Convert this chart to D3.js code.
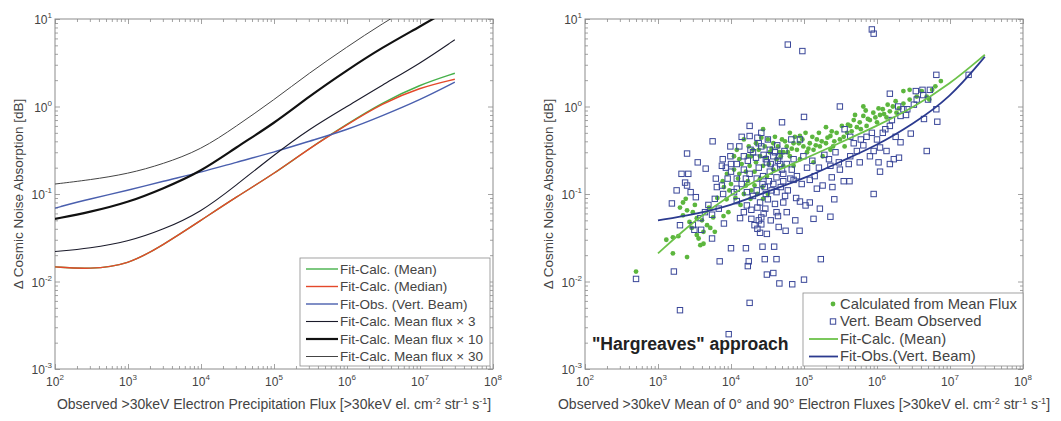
<!DOCTYPE html>
<html>
<head>
<meta charset="utf-8">
<script src="https://d3js.org/d3.v7.min.js"></script>
<style>
  body { margin: 0; background: #fff; }
  svg { font-family: "Liberation Sans", Arial, sans-serif; }
  svg text { fill: #444; }
</style>
</head>
<body>
<svg id="chart" width="1061" height="421"></svg>
<script>
// ---- left panel: fitted curves ----
const fluxGrid = [1e2, 3e2, 1e3, 3e3, 1e4, 3e4, 1e5, 3e5, 1e6, 3e6, 1e7, 3e7];
const fitCalcMean   = [0.0147, 0.0138, 0.0155, 0.026, 0.05, 0.092, 0.17, 0.33, 0.63, 1.10, 1.78, 2.4];
const fitCalcMedian = [0.0147, 0.0138, 0.0155, 0.026, 0.05, 0.092, 0.17, 0.33, 0.62, 1.08, 1.65, 2.05];
const fitObsVert    = [0.069, 0.088, 0.11, 0.14, 0.177, 0.23, 0.30, 0.40, 0.54, 0.78, 1.19, 1.9];
const meanFluxX3    = [0.022, 0.024, 0.0285, 0.039, 0.062, 0.125, 0.28, 0.55, 1.0, 1.75, 3.1, 5.8];
const meanFluxX10   = [0.052, 0.062, 0.08, 0.115, 0.18, 0.34, 0.64, 1.3, 2.6, 4.7, 8.2, 14];
const meanFluxX30   = [0.13, 0.145, 0.17, 0.22, 0.32, 0.59, 1.19, 2.4, 4.8, 8.8, 16, 28];

const leftNames = ["Fit-Calc. (Mean)", "Fit-Calc. (Median)", "Fit-Obs. (Vert. Beam)",
  "Fit-Calc. Mean flux \u00d7 3", "Fit-Calc. Mean flux \u00d7 10", "Fit-Calc. Mean flux \u00d7 30"];

// ---- right panel: scatter + fits ----
const fitGridR = [1e3, 3e3, 1e4, 3e4, 1e5, 3e5, 1e6, 3e6, 1e7, 3e7];
const fitCalcMeanR = [0.021, 0.048, 0.10, 0.165, 0.25, 0.38, 0.60, 0.95, 1.8, 3.9];
const fitObsVertR  = [0.05, 0.058, 0.074, 0.105, 0.15, 0.23, 0.36, 0.62, 1.25, 3.7];

const calcFromMean = [
[5.0e2,0.013],[1.6e3,0.021],[2.5e3,0.019],[1.6e3,0.032],[1.9e3,0.033],[2.2e3,0.08],[2.5e3,0.065],[3.0e3,0.062],[3.4e3,0.053],
[2.9e3,0.041],[3.4e3,0.034],[3.8e3,0.026],[4.2e3,0.037],[4.7e3,0.044],[5.2e3,0.041],[5.7e3,0.054],[6.0e3,0.037],[4.2e3,0.027],
[3.6e3,0.031],[2.0e3,0.07],[2.4e3,0.088],[7.9e3,0.056],[9.2e3,0.062],[8.7e3,0.087],[7.7e3,0.14],[8.8e3,0.17],[1.0e4,0.13],
[1.1e4,0.19],[1.25e4,0.15],[1.3e4,0.25],[1.5e4,0.1],[1.6e4,0.125],[1.8e4,0.21],[1.9e4,0.27],[2.0e4,0.32],[2.2e4,0.38],
[2.5e4,0.27],[2.75e4,0.21],[2.9e4,0.35],[3.2e4,0.42],[3.4e4,0.3],[3.8e4,0.38],[4.2e4,0.25],[4.4e4,0.35],[5.0e4,0.42],
[5.2e4,0.3],[5.8e4,0.35],[6.4e4,0.27],[7.2e4,0.38],[8.0e4,0.32],[8.8e4,0.46],[9.8e4,0.35],[1.1e5,0.3],[1.2e5,0.38],
[1.35e5,0.32],[1.5e5,0.42],[1.65e5,0.35],[1.8e5,0.27],[2.0e5,0.38],[2.3e5,0.46],[2.5e5,0.35],[2.8e5,0.5],[3.1e5,0.42],
[3.3e5,0.6],[3.9e5,0.5],[4.3e5,0.6],[4.8e5,0.7],[5.3e5,0.58],[5.8e5,0.66],[6.5e5,0.78],[7.2e5,0.6],[8.0e5,0.7],[8.9e5,0.85],
[1.0e6,0.66],[1.1e6,0.8],[1.2e6,0.93],[1.35e6,0.75],[1.5e6,0.88],[1.65e6,1.0],[1.85e6,0.85],[2.3e6,1.08],[2.8e6,1.2],
[3.5e6,1.3],[4.1e6,1.5],[4.8e6,1.3],[5.7e6,1.55],[6.3e6,1.7],[5.2e6,1.2],
[1.2e4,0.32],[1.5e4,0.42],[1.1e4,0.27],[1.6e4,0.18],[2.1e4,0.18],[2.5e4,0.15],[3.1e4,0.16],[3.8e4,0.19],[2.1e4,0.125],
[1.85e4,0.088],[2.75e4,0.088],[5.2e4,0.21],[7.2e4,0.21],[8.8e4,0.25],[1.35e5,0.23],[6.4e4,0.5],[2.75e4,0.55],[1.75e4,0.35],
[2.0e5,0.58],[2.3e5,0.32],[3.6e5,0.35],[6.5e5,1.0],[2.3e6,1.5],[2.8e6,1.55],[7.5e6,1.95],
[1.3e4,0.17],[1.4e4,0.22],[1.7e4,0.27],[2.2e4,0.23],[2.4e4,0.32],[2.6e4,0.44],[3.0e4,0.26],[3.3e4,0.22],[3.6e4,0.33],
[4.0e4,0.45],[4.6e4,0.3],[4.8e4,0.27],[5.5e4,0.4],[6.0e4,0.3],[6.8e4,0.33],[7.5e4,0.45],[8.5e4,0.38],[9.5e4,0.42],
[1.05e5,0.5],[1.15e5,0.33],[1.3e5,0.45],[1.45e5,0.36],[1.6e5,0.5],[1.75e5,0.4],[2.1e5,0.44],[2.4e5,0.52],[2.6e5,0.4],
[3.5e5,0.45],[4.0e5,0.62],[4.5e5,0.52],[5.0e5,0.8],[6.0e5,0.55],[7.0e5,0.9],[7.5e5,0.72],[9.5e5,0.75],[1.05e6,0.95],
[1.25e6,0.82],[1.4e6,1.05],[1.8e6,1.15],[2.0e6,0.95],[9.5e3,0.11],[1.15e4,0.09],[1.35e4,0.075],[1.7e4,0.14],[1.9e4,0.11],
[2.3e4,0.1],[2.7e4,0.12],[3.2e4,0.1],[8.0e3,0.12],[6.5e3,0.09],[5.0e3,0.07],[4.0e3,0.05],[2.7e3,0.048],[3.2e3,0.075],
[2.2e3,0.057],[1.3e3,0.03]
];

const vertBeamObs = [
[6.0e4,5.1],[9.5e4,4.3],[8.5e5,7.6],[9.0e5,6.8],[6.5e6,2.3],[1.8e7,2.3],[1.5e6,1.4],[3.4e6,1.5],[4.2e6,1.55],
[3.1e5,1.0],[1.0e5,0.76],[5.0e4,0.66],[6.5e6,0.93],[6.7e6,0.67],[4.4e6,0.72],[2.9e6,0.49],[1.8e6,0.45],[1.7e6,0.25],
[1.35e6,0.31],[4.8e6,0.31],[1.05e6,0.23],[8.0e5,0.27],[9.0e5,0.10],[3.5e5,0.14],[2.4e5,0.155],[2.45e5,0.12],[1.8e5,0.125],
[1.5e5,0.115],[2.6e5,0.087],[1.65e5,0.068],[2.3e5,0.055],[1.35e5,0.052],[1.2e5,0.08],[8.8e4,0.082],[1.05e5,0.074],[7.8e4,0.09],
[1.7e5,0.018],[5.5e4,0.095],[5.8e4,0.062],[7.6e4,0.05],[8.7e4,0.038],[5.6e4,0.038],[4.5e4,0.042],[1.8e4,0.6],[5.6e3,0.40],
[2.5e3,0.29],[3.5e3,0.23],[4.5e3,0.195],[2.1e3,0.17],[2.6e3,0.17],[2.35e3,0.135],[2.5e3,0.125],[2.8e3,0.105],[3.3e3,0.092],
[1.55e3,0.078],[4.9e3,0.075],[5.5e3,0.058],[3.8e3,0.053],[3.0e3,0.044],[3.15e3,0.039],[3.9e3,0.039],[5.5e3,0.031],
[1.65e3,0.013],[2.0e3,0.0047],[5.0e2,0.0107],[9.3e3,0.0025],[7.0e3,0.017],[1.0e4,0.024],[1.6e4,0.024],[1.7e4,0.015],
[1.75e4,0.017],[2.7e4,0.025],[2.9e4,0.018],[3.9e4,0.025],[4.2e4,0.018],[3.1e4,0.012],[3.8e4,0.0125],[4.6e4,0.0095],
[6.9e4,0.0093],[1.0e5,0.0105],[1.8e4,0.0057],[2.3e4,0.04],[2.5e4,0.036],[3.1e4,0.035],[2.1e4,0.044],[2.4e4,0.05],
[1.33e4,0.053],[2.6e4,0.054],[4.4e4,0.056],[4.2e4,0.062],
[1.8e4,0.46],[2.3e4,0.44],[9.8e3,0.35],[7.7e3,0.25],[9.8e3,0.27],[7.5e3,0.21],[1.0e4,0.22],[1.5e4,0.27],[1.85e4,0.32],
[2.6e4,0.35],[3.4e4,0.32],[3.8e4,0.27],[4.6e4,0.27],[5.4e4,0.31],[6.7e4,0.42],[8.8e4,0.42],[4.7e4,0.22],[3.4e4,0.18],
[2.75e4,0.16],[2.25e4,0.15],[1.8e4,0.17],[1.5e4,0.19],[1.2e4,0.15],[9.0e3,0.15],[7.5e3,0.125],[7.8e3,0.10],[1.2e4,0.115],
[1.65e4,0.105],[2.25e4,0.11],[2.9e4,0.12],[3.8e4,0.13],[5.2e4,0.14],[7.2e4,0.145],[9.3e4,0.13],[1.2e5,0.145],[1.4e5,0.16],
[1.2e4,0.083],[1.65e4,0.074],[2.5e4,0.08],[3.2e4,0.087],[4.2e4,0.105],[4.0e4,0.077],[2.95e4,0.068],[1.9e4,0.066],[1.5e4,0.062],
[5.2e4,0.08],[3.1e4,0.23],[4.0e4,0.2],[5.8e4,0.22],[7.2e4,0.25],[9.8e4,0.27],[1.3e5,0.24],[1.6e5,0.2],[5.2e4,0.17],[4.2e4,0.155],
[1.1e4,0.105],
[4.3e5,0.27],[5.3e5,0.31],[6.5e5,0.36],[7.2e5,0.45],[5.8e5,0.23],[4.1e5,0.22],[3.1e5,0.19],[1.0e6,0.42],[1.2e6,0.5],[1.1e6,0.34],
[2.3e5,0.21],[2.1e6,0.78],[2.3e6,0.93],[3.5e6,1.2],[4.3e6,1.35],[1.95e6,1.0],[3.6e5,0.55],[4.3e5,0.45],[9.0e5,0.31],[1.5e6,0.6],
[2.6e6,0.93],[3.2e6,1.05],[5.3e6,1.55],[5.0e6,1.2],
[2.0e3,0.044],[1.8e3,0.11],[6.4e3,0.12],[6.0e3,0.088],[4.4e3,0.062],
[2.1e6,0.39],[2.0e6,0.26],[1.5e6,0.22],[1.1e6,0.18],[4.2e5,0.14],
[2.0e4,0.3],[2.2e4,0.26],[2.8e4,0.28],[3.0e4,0.25],[3.5e4,0.22],[4.0e4,0.3],[4.4e4,0.24],[2.4e4,0.2],[2.7e4,0.13],
[3.3e4,0.14],[3.6e4,0.11],[4.8e4,0.12],[6.0e4,0.11],[6.5e4,0.15],[1.4e4,0.13],[1.0e4,0.18],[8.5e3,0.2],[1.3e4,0.35],
[1.6e4,0.15],[2.0e4,0.095],[2.3e4,0.07],[2.8e4,0.06],[3.5e4,0.05],[1.9e4,0.052],[6.2e3,0.15],[6.8e3,0.068],[8.0e3,0.046],
[3.2e4,0.42],[4.3e4,0.36],[5.0e4,0.19],[6.8e4,0.19],[8.0e4,0.16],[1.1e5,0.2],[1.9e5,0.28],[2.7e5,0.3],[2.2e5,0.25],
[3.0e5,0.23],[4.8e5,0.38],[6.0e5,0.42],[8.5e5,0.5],[1.3e6,0.55],[1.6e6,0.7],[2.5e6,0.8],[2.6e4,0.045],[3.0e4,0.1],
[1.2e4,0.22],[1.7e4,0.24],[2.4e4,0.38],[2.6e4,0.5],[1.4e4,0.45]
];

const rightNames = ["Calculated from Mean Flux", "Vert. Beam Observed", "Fit-Calc. (Mean)", "Fit-Obs.(Vert. Beam)"];

// ---- axis ticks ----
const xMajor = [1e2, 1e3, 1e4, 1e5, 1e6, 1e7, 1e8];
const yMajor = [1e-3, 1e-2, 1e-1, 1e0, 1e1];
const yTitle = "\u0394 Cosmic Noise Absorption [dB]";
const xTitleLeft = [["Observed >30keV Electron Precipitation Flux [>30keV el. cm"], ["-2", 1], [" str"], ["-1", 1], [" s"], ["-1", 1], ["]"]];
const xTitleRight = [["Observed >30keV Mean of 0\u00b0 and 90\u00b0 Electron Fluxes [>30keV el. cm"], ["-2", 1], [" str"], ["-1", 1], [" s"], ["-1", 1], ["]"]];

const svg = d3.select("#chart");
const W = 438, H = 350, TOP = 19;

function minorTicks(lo, hi) {
  const out = [];
  for (let e = lo; e < hi; e++) for (let m = 2; m <= 9; m++) out.push(m * Math.pow(10, e));
  return out;
}

function powLabel(sel, v) {
  const e = Math.round(Math.log10(v));
  sel.append("tspan").text("10");
  sel.append("tspan").attr("dy", -6).attr("font-size", 8).text(e);
}

function panel(id, left, xTitle) {
  const x = d3.scaleLog().domain([1e2, 1e8]).range([left, left + W]);
  const y = d3.scaleLog().domain([1e-3, 1e1]).range([TOP + H, TOP]);
  const g = svg.append("g").attr("id", id);

  g.append("clipPath").attr("id", id + "clip")
    .append("rect").attr("x", left).attr("y", TOP).attr("width", W).attr("height", H);

  const axColor = "#8c8c8c";
  const mk = (axis, tr) => {
    const a = g.append("g").attr("transform", tr).call(axis);
    a.select(".domain").remove();
    a.selectAll("line").attr("stroke", axColor).attr("stroke-width", 0.8);
    a.selectAll("text").remove();
  };
  [[xMajor, 5], [minorTicks(2, 8), 3]].forEach(([vals, s]) => {
    mk(d3.axisBottom(x).tickValues(vals).tickSize(-s), `translate(0,${TOP + H})`);
    mk(d3.axisTop(x).tickValues(vals).tickSize(-s), `translate(0,${TOP})`);
  });
  [[yMajor, 5], [minorTicks(-3, 1), 3]].forEach(([vals, s]) => {
    mk(d3.axisLeft(y).tickValues(vals).tickSize(-s), `translate(${left},0)`);
    mk(d3.axisRight(y).tickValues(vals).tickSize(-s), `translate(${left + W},0)`);
  });
  g.append("rect").attr("x", left).attr("y", TOP).attr("width", W).attr("height", H)
    .attr("fill", "none").attr("stroke", axColor).attr("stroke-width", 1);

  g.selectAll(".xl").data(xMajor).enter().append("text")
    .attr("x", d => x(d)).attr("y", TOP + H + 17)
    .attr("text-anchor", "middle").attr("font-size", 12)
    .each(function (d) { powLabel(d3.select(this), d); });
  g.selectAll(".yl").data(yMajor).enter().append("text")
    .attr("x", left - 3).attr("y", d => y(d) + 5)
    .attr("text-anchor", "end").attr("font-size", 12)
    .each(function (d) { powLabel(d3.select(this), d); });

  const xt = g.append("text").attr("x", left + W / 2).attr("y", TOP + H + 35)
    .attr("text-anchor", "middle").attr("font-size", 14);
  xTitle.forEach(([t, sup]) => {
    if (sup) xt.append("tspan").attr("dy", -5).attr("font-size", 9).text(t);
    else xt.append("tspan").attr("dy", xt.selectAll("tspan").size() ? 5 : 0).text(t);
  });
  g.append("text").attr("transform", `translate(${left - 32},${TOP + H / 2}) rotate(-90)`)
    .attr("text-anchor", "middle").attr("font-size", 13.5).text(yTitle);

  const plot = g.append("g").attr("clip-path", `url(#${id}clip)`);
  return { x, y, g, plot };
}

// ---------- left panel ----------
const L = panel("left", 55, xTitleLeft);
const leftSeries = [
  { vals: fitCalcMean, color: "#46b04a", w: 1.4 },
  { vals: fitCalcMedian, color: "#e4482a", w: 1.4 },
  { vals: fitObsVert, color: "#4a5fae", w: 1.4 },
  { vals: meanFluxX3, color: "#1a1a2a", w: 1.1 },
  { vals: meanFluxX10, color: "#111", w: 2.2 },
  { vals: meanFluxX30, color: "#444", w: 1.0 }
];
const lineL = d3.line().x(d => L.x(d[0])).y(d => L.y(d[1])).curve(d3.curveBasis);
leftSeries.forEach(s => {
  L.plot.append("path").datum(fluxGrid.map((f, i) => [f, s.vals[i]]))
    .attr("d", lineL).attr("fill", "none").attr("stroke", s.color).attr("stroke-width", s.w);
});

const lg = L.g.append("g");
lg.append("rect").attr("x", 300).attr("y", 258).attr("width", 190).attr("height", 108)
  .attr("fill", "#fff").attr("stroke", "#8c8c8c").attr("stroke-width", 0.8);
leftNames.forEach((n, i) => {
  const yy = 269 + i * 17.5;
  lg.append("line").attr("x1", 306).attr("x2", 338).attr("y1", yy).attr("y2", yy)
    .attr("stroke", leftSeries[i].color).attr("stroke-width", leftSeries[i].w);
  lg.append("text").attr("x", 340).attr("y", yy + 4.5).attr("font-size", 13.5).text(n);
});

// ---------- right panel ----------
const R = panel("right", 585, xTitleRight);
R.plot.selectAll(".calc").data(calcFromMean).enter().append("circle")
  .attr("cx", d => R.x(d[0])).attr("cy", d => R.y(d[1])).attr("r", 2.4)
  .attr("fill", "#5cb63e");
R.plot.selectAll(".obs").data(vertBeamObs).enter().append("rect")
  .attr("x", d => R.x(d[0]) - 2.7).attr("y", d => R.y(d[1]) - 2.7)
  .attr("width", 5.4).attr("height", 5.4)
  .attr("fill", "none").attr("stroke", "#3a4799").attr("stroke-width", 1);
const lineR = d3.line().x(d => R.x(d[0])).y(d => R.y(d[1])).curve(d3.curveBasis);
R.plot.append("path").datum(fitGridR.map((f, i) => [f, fitCalcMeanR[i]]))
  .attr("d", lineR).attr("fill", "none").attr("stroke", "#6cc24a").attr("stroke-width", 1.8);
R.plot.append("path").datum(fitGridR.map((f, i) => [f, fitObsVertR[i]]))
  .attr("d", lineR).attr("fill", "none").attr("stroke", "#2b3a8f").attr("stroke-width", 1.8);

R.g.append("text").attr("x", 592).attr("y", 350).attr("font-size", 17.6).attr("font-weight", "bold")
  .style("fill", "#222").text("\"Hargreaves\" approach");

const rg = R.g.append("g");
rg.append("rect").attr("x", 803).attr("y", 293).attr("width", 220).attr("height", 73)
  .attr("fill", "#fff").attr("stroke", "#8c8c8c").attr("stroke-width", 0.8);
rightNames.forEach((n, i) => {
  const yy = 304 + i * 17.5;
  if (i === 0) rg.append("circle").attr("cx", 833).attr("cy", yy).attr("r", 2.4).attr("fill", "#5cb63e");
  else if (i === 1) rg.append("rect").attr("x", 830.3).attr("y", yy - 2.7).attr("width", 5.4).attr("height", 5.4)
    .attr("fill", "none").attr("stroke", "#3a4799");
  else rg.append("line").attr("x1", 809).attr("x2", 838).attr("y1", yy).attr("y2", yy)
    .attr("stroke", i === 2 ? "#6cc24a" : "#2b3a8f").attr("stroke-width", 1.8);
  rg.append("text").attr("x", 840).attr("y", yy + 4.5).attr("font-size", 14.8).text(n);
});
</script>
</body>
</html>
